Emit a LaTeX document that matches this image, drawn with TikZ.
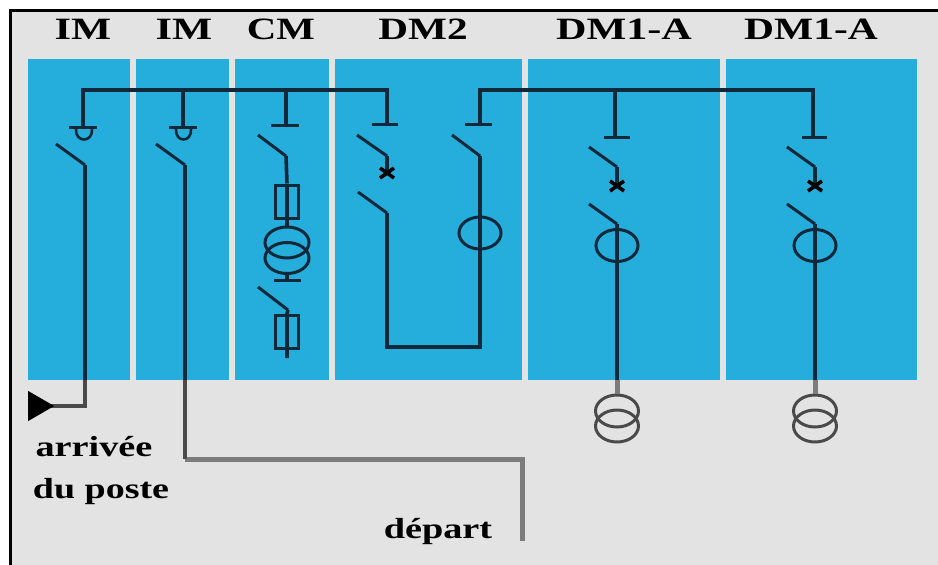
\documentclass[tikz,border=0pt]{standalone}
\usepackage{fontspec}
\setmainfont{Liberation Serif}
\usetikzlibrary{shapes.geometric}
\definecolor{bgrey}{HTML}{E3E3E3}
\definecolor{panelblue}{HTML}{25ADDC}
\definecolor{wire}{HTML}{10293A}
\definecolor{wgrey}{HTML}{7C7C7C}
\definecolor{tgrey}{HTML}{4A4A4A}
\tikzset{
  panel/.style={fill=panelblue,draw=none,inner sep=0pt,anchor=north west,minimum height=321pt},
  wireline/.style={draw=wire,line width=3.6pt,line join=miter},
  blade/.style={draw=wire,line width=3pt,line join=miter},
  ring/.style={ellipse,draw=wire,line width=3pt,fill=none,inner sep=0pt,minimum width=42pt,minimum height=32pt},
  fuse/.style={rectangle,draw=wire,line width=3pt,fill=none,inner sep=0pt,minimum width=23pt,minimum height=33pt},
  head/.style={font=\bfseries\fontsize{31}{31}\selectfont,anchor=base,inner sep=0pt,text=black},
  cap text/.style={font=\bfseries\fontsize{29}{29}\selectfont,anchor=base,inner sep=0pt,text=black},
}
\newcommand{\wide}[2]{\scalebox{#1}[1]{#2}}
\begin{document}
\begin{tikzpicture}[x=1pt,y=-1pt]
\useasboundingbox (0,0) rectangle (938,565);
\fill[white] (0,0) rectangle (938,565);
\fill[bgrey] (10,10) rectangle (938,565);
\draw[black,line width=3pt] (10.5,565) -- (10.5,10.5) -- (938,10.5);
% panels
\node[panel,minimum width=102pt] (p1) at (28,59) {};
\node[panel,minimum width=93pt] (p2) at (136,59) {};
\node[panel,minimum width=94pt] (p3) at (235,59) {};
\node[panel,minimum width=187pt] (p4) at (335,59) {};
\node[panel,minimum width=192pt] (p5) at (528,59) {};
\node[panel,minimum width=191pt] (p6) at (726,59) {};
% headings
\node[head] (h1) at (83,39) {\wide{1.37}{IM}};
\node[head] (h2) at (184,39) {\wide{1.37}{IM}};
\node[head] (h3) at (281,39) {\wide{1.32}{CM}};
\node[head] (h4) at (423,39) {\wide{1.33}{DM2}};
\node[head] (h5) at (624,39) {\wide{1.36}{DM1-A}};
\node[head] (h6) at (811,39) {\wide{1.34}{DM1-A}};
% captions
\node[cap text] (c1) at (94,456) {\wide{1.32}{arrivée}};
\node[cap text] (c2) at (101,498) {\wide{1.31}{du poste}};
\node[cap text] (c3) at (438,538) {\wide{1.32}{départ}};
% busbars
\coordinate (b1) at (83,90);\coordinate (b2) at (183,90);\coordinate (b3) at (286,90);\coordinate (b4) at (387,90);
\coordinate (b5) at (480,90);\coordinate (b6) at (615,90);\coordinate (b7) at (813,90);
\coordinate (t1) at (83,127);\coordinate (t2) at (183,127);\coordinate (t3) at (286,125);\coordinate (t4) at (387,124);
\coordinate (t5) at (480,124);\coordinate (t6) at (615,137);\coordinate (t7) at (813,137);
\draw[wireline] (t1) -- (b1) -- (b4) -- (t4);
\draw[wireline] (t5) -- (b5) -- (b7) -- (t7);
\draw[wireline] (b2) -- (t2);
\draw[wireline] (b3) -- (t3);
\draw[wireline] (b6) -- (t6);
% T bars
\foreach \n/\a/\b in {t1/-14/14,t2/-14/14,t3/-15/13,t4/-15/11,t5/-15/12,t6/-11/15,t7/-11/14}
  \draw[blade] ([xshift=\a pt]\n) -- ([xshift=\b pt]\n);
% earthing half circles
\draw[blade,line width=2.6pt] (76,129) .. controls (75,143) and (93,143) .. (92,129);
\draw[blade,line width=2.6pt] (176,129) .. controls (175,143) and (192,143) .. (191,129);
% IM 1 - incoming
\coordinate (s1a) at (56,144);\coordinate (s1b) at (85,165);\coordinate (s1c) at (85,406);\coordinate (s1d) at (45,406);
\draw[blade] (s1a) -- (s1b);
\draw[wireline] (s1b) -- (s1c);
\draw[draw=tgrey,line width=3.4pt] (85,380) -- (s1c) -- (s1d);
\node[isosceles triangle,isosceles triangle apex angle=60,fill=black,minimum height=26pt,minimum width=25pt,inner sep=0pt,anchor=west] (arr) at (28,406) {};
% IM 2 - outgoing
\coordinate (s2a) at (156,144);\coordinate (s2b) at (185,165);\coordinate (s2c) at (185,459);\coordinate (s2d) at (522,459);\coordinate (s2e) at (522,541);
\draw[blade] (s2a) -- (s2b);
\draw[wireline] (s2b) -- (s2c);
\draw[draw=wgrey,line width=5pt] (s2c) -- (s2d) -- (s2e);
\draw[draw=tgrey,line width=3.6pt] (185,380) -- (s2c);
% CM
\coordinate (s3a) at (258,135);\coordinate (s3b) at (286,156);
\node[fuse] (f1) at (287,201.5) {};
\node[ring,minimum width=44pt,minimum height=31pt] (r1) at (287,242.5) {};
\node[ring,minimum width=44pt,minimum height=31pt] (r2) at (287,258) {};
\coordinate (e3) at (287,280);
\draw[blade] (s3a) -- (s3b);
\draw[wireline] (s3b) -- (f1.north);
\draw[wireline] (f1.north) -- (f1.south) -- (r1.north);
\draw[wireline] (r2.south) -- (e3);
\draw[blade] ([xshift=-13pt]e3) -- ([xshift=14pt]e3);
\coordinate (s4a) at (258,287);\coordinate (s4b) at (288,310);\coordinate (s4c) at (287,358);
\node[fuse] (f2) at (287,331.5) {};
\draw[blade] (s4a) -- (s4b);
\draw[wireline] (s4b) -- (f2.north) -- (f2.south) -- (s4c);
% DM2
\coordinate (s5a) at (357,135);\coordinate (s5b) at (387,156);\coordinate (s5c) at (387,173);
\draw[blade] (s5a) -- (s5b);
\draw[wireline] (s5b) -- (s5c);
\draw[wireline,black] ([shift={(-7,-5)}]s5c) -- ([shift={(7,5)}]s5c);
\draw[wireline,black] ([shift={(7,-5)}]s5c) -- ([shift={(-7,5)}]s5c);
\coordinate (s6a) at (358,192);\coordinate (s6b) at (387,213);\coordinate (s6c) at (387,347);\coordinate (s6d) at (480,347);
\coordinate (s7a) at (452,135);\coordinate (s7b) at (480,156);
\node[ring] (r3) at (480,233) {};
\draw[blade] (s6a) -- (s6b);
\draw[wireline] (s6b) -- (s6c) -- (s6d) -- (s7b);
\draw[blade] (s7b) -- (s7a);
% DM1-A units
\foreach \u/\x/\s in {a/617/589,b/815/787}{
  \coordinate (q\u a) at (\s,147);\coordinate (q\u b) at (\x,167);\coordinate (q\u c) at (\x,186);
  \draw[blade] (q\u a) -- (q\u b);
  \draw[wireline] (q\u b) -- (q\u c);
  \draw[wireline,black] ([shift={(-7,-5)}]q\u c) -- ([shift={(7,5)}]q\u c);
  \draw[wireline,black] ([shift={(7,-5)}]q\u c) -- ([shift={(-7,5)}]q\u c);
  \coordinate (q\u d) at (\s,204);\coordinate (q\u e) at (\x,224);
  \node[ring] (rr\u) at (\x,245.5) {};
  \node[ring,draw=tgrey,minimum width=43pt] (up\u) at (\x,411) {};
  \node[ring,draw=tgrey,minimum width=43pt] (lo\u) at (\x,426) {};
  \coordinate (q\u f) at (\x,380);
  \draw[blade] (q\u d) -- (q\u e);
  \draw[wireline] (q\u e) -- (q\u f);
  \draw[draw=wgrey,line width=5pt] (q\u f) -- (up\u.north);
}
\end{tikzpicture}
\end{document}
